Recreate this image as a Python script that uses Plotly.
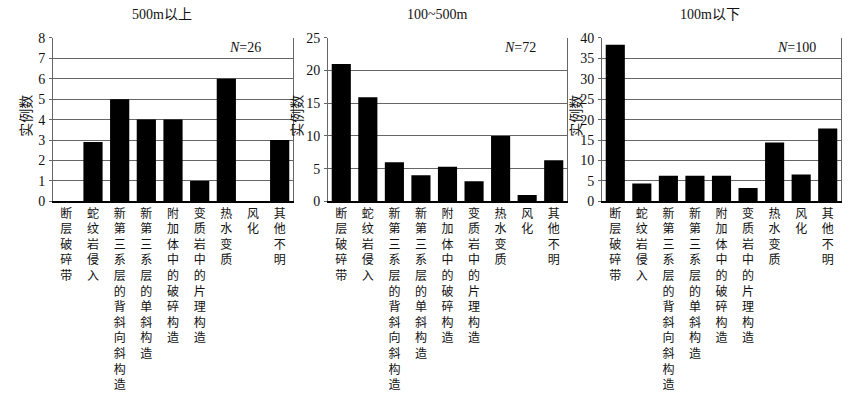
import plotly.graph_objects as go

categories = ["断层破碎带", "蛇纹岩侵入", "新第三系层的背斜向斜构造", "新第三系层的单斜构造",
              "附加体中的破碎构造", "变质岩中的片理构造", "热水变质", "风化", "其他不明"]
titles = ["500m以上", "100~500m", "100m以下"]
n_labels = ["<i>N</i>=26", "<i>N</i>=72", "<i>N</i>=100"]
vals_500up = [0, 2.9, 5, 4, 4, 1, 6, 0, 3]
vals_100_500 = [21, 15.9, 6, 4, 5.3, 3.1, 10, 1, 6.3]
vals_100down = [38.3, 4.4, 6.3, 6.3, 6.3, 3.3, 14.4, 6.6, 17.8]
y_max = [8, 25, 40]
y_dtick = [1, 5, 5]
y_title = "实例数"

series = [vals_500up, vals_100_500, vals_100down]

W, H = 862, 400
px_domains = [(53, 293), (328, 567), (602, 841)]
top_px, bot_px = 32, 202
title_x_px = [162, 437, 710]
ytitle_x_px = [25, 296, 575]
nlabel_right_px = [263, 538, 818]

font_main = "Liberation Serif, Times New Roman, Noto Sans CJK SC, serif"
font_cjk = "Noto Sans CJK SC, Liberation Serif, serif"

tick_text = ["<br>".join(list(c)) for c in categories]

fig = go.Figure()
for i, vals in enumerate(series):
    xa = "x" if i == 0 else f"x{i+1}"
    ya = "y" if i == 0 else f"y{i+1}"
    fig.add_trace(go.Bar(x=list(range(len(categories))), y=vals, xaxis=xa, yaxis=ya,
                         marker=dict(color="black", line=dict(width=0)),
                         width=0.72, showlegend=False))
    d0, d1 = px_domains[i]
    xkey = "xaxis" if i == 0 else f"xaxis{i+1}"
    ykey = "yaxis" if i == 0 else f"yaxis{i+1}"
    fig.update_layout(**{
        xkey: dict(domain=[d0 / W, d1 / W], anchor=ya, range=[-0.5, 8.5],
                   tickmode="array", tickvals=list(range(len(categories))), ticktext=tick_text,
                   tickfont=dict(family=font_cjk, size=12, color="#111"),
                   showgrid=False, zeroline=False, showline=True, linecolor="black", linewidth=1.5,
                   mirror=False, ticks="", fixedrange=True),
        ykey: dict(domain=[1 - bot_px / H, 1 - top_px / H], anchor=xa, range=[0, y_max[i]],
                   dtick=y_dtick[i], tick0=0,
                   tickfont=dict(family=font_main, size=14, color="#111"),
                   showgrid=True, gridcolor="#666", gridwidth=1.2,
                   zeroline=False, showline=True, linecolor="#666", linewidth=1, mirror=True,
                   ticks="outside", ticklen=3, tickcolor="#666", tickwidth=1,
                   ticklabelstandoff=1, fixedrange=True),
    })
    fig.add_annotation(x=title_x_px[i] / W, y=1 - 8 / H, xref="paper", yref="paper",
                       text=titles[i], showarrow=False, xanchor="center", yanchor="middle",
                       font=dict(family=font_main, size=14, color="#111"))
    fig.add_annotation(x=ytitle_x_px[i] / W, y=1 - 113 / H, xref="paper", yref="paper",
                       text=y_title, showarrow=False, textangle=-90, xanchor="center", yanchor="middle",
                       font=dict(family=font_cjk, size=14, color="#111"))
    fig.add_annotation(x=nlabel_right_px[i] / W, y=1 - 42 / H, xref="paper", yref="paper",
                       text=n_labels[i], showarrow=False, xanchor="right", yanchor="middle",
                       font=dict(family=font_main, size=14, color="#111"))

fig.update_layout(width=W, height=H, margin=dict(l=0, r=0, t=0, b=0),
                  paper_bgcolor="white", plot_bgcolor="white", bargap=0.28)
fig.write_html("out.html", config={"displayModeBar": False},
               post_script="document.body.style.margin='0';document.body.style.overflow='hidden';")
